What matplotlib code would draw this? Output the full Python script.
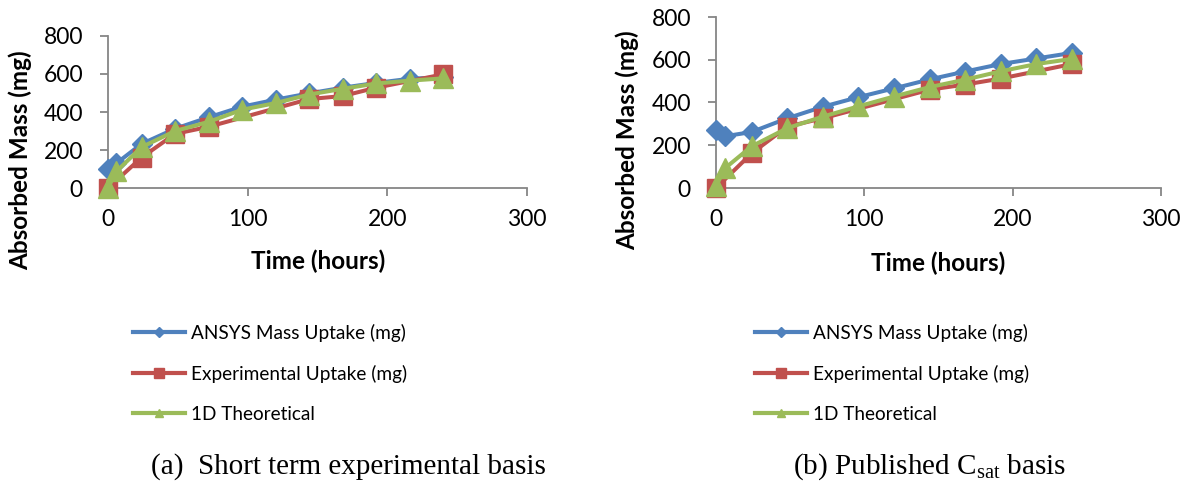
import matplotlib
matplotlib.use("Agg")
import matplotlib.pyplot as plt
from matplotlib.lines import Line2D

plt.rcParams['font.family'] = ['Lato', 'DejaVu Sans']
plt.rcParams['mathtext.fontset'] = 'custom'
plt.rcParams['mathtext.rm'] = 'Liberation Serif'

# ---- data ----
t_model = [0, 6, 24, 48, 72, 96, 120, 144, 168, 192, 216, 240]
t_exp = [0, 24, 48, 72, 144, 168, 192, 240]

a_ansys = [100, 130, 232, 312, 372, 428, 465, 498, 528, 553, 575, 583]
a_exp = [0, 160, 285, 322, 468, 484, 528, 598]
a_theory = [0, 87, 215, 300, 348, 412, 447, 492, 522, 550, 565, 577]

b_ansys = [272, 242, 262, 326, 380, 425, 466, 508, 545, 580, 606, 632]
b_exp = [0, 162, 287, 326, 460, 484, 512, 580]
b_theory = [8, 92, 195, 280, 334, 382, 428, 472, 507, 546, 580, 604]

series_names = ["ANSYS Mass Uptake (mg)", "Experimental Uptake (mg)", "1D Theoretical"]
xticks = [0, 100, 200, 300]
yticks = [0, 200, 400, 600, 800]
captions = ["(a)  Short term experimental basis", r"(b) Published C$_{\rm sat}$ basis"]

BLUE = "#4F81BD"
RED = "#C0504D"
GREEN = "#9BBB59"
GRAY = "#868686"

W, H = 1190, 486
fig = plt.figure(figsize=(W / 100, H / 100), dpi=100)


def px_box(x0, x1, ytop, ybot):
    return [x0 / W, 1 - ybot / H, (x1 - x0) / W, (ybot - ytop) / H]


def draw(ax, ansys, exp, theory):
    ax.plot(t_model, ansys, color=BLUE, lw=2.9, marker='D', ms=10, mec=BLUE, mfc=BLUE, zorder=3)
    ax.plot(t_exp, exp, color=RED, lw=2.9, marker='s', ms=13.5, mec=RED, mfc=RED, zorder=4)
    ax.plot(t_model, theory, color=GREEN, lw=2.9, marker='^', ms=14, mec=GREEN, mfc=GREEN, zorder=5)
    ax.set_xlim(0, 300)
    ax.set_ylim(0, 800)
    ax.set_xticks(xticks)
    ax.set_yticks(yticks)
    for s in ['top', 'right']:
        ax.spines[s].set_visible(False)
    for s in ['left', 'bottom']:
        ax.spines[s].set_color(GRAY)
        ax.spines[s].set_linewidth(1.3)
    ax.tick_params(axis='both', direction='out', length=6, width=1.3, color=GRAY,
                   labelsize=16.5, labelcolor='black')
    ax.tick_params(axis='y', pad=12)
    ax.tick_params(axis='x', pad=9)
    ax.patch.set_alpha(0)
    for ln in ax.lines:
        ln.set_clip_on(False)


axL = fig.add_axes(px_box(108, 527, 36, 188))
draw(axL, a_ansys, a_exp, a_theory)
axR = fig.add_axes(px_box(716, 1161, 17, 188))
draw(axR, b_ansys, b_exp, b_theory)

# axis titles
LBL = dict(fontsize=17.5, fontweight='bold', ha='center', va='center')
fig.text(20 / W, 1 - 160 / H, "Absorbed Mass (mg)", rotation=90, **LBL)
fig.text(318 / W, 1 - 261 / H, "Time (hours)", **LBL)
fig.text(627 / W, 1 - 140 / H, "Absorbed Mass (mg)", rotation=90, **LBL)
fig.text(938 / W, 1 - 263 / H, "Time (hours)", **LBL)

# legends
handles = [
    Line2D([], [], color=BLUE, lw=3, marker='D', ms=5, mec=BLUE, mfc=BLUE),
    Line2D([], [], color=RED, lw=3, marker='s', ms=7, mec=RED, mfc=RED),
    Line2D([], [], color=GREEN, lw=3, marker='^', ms=6, mec=GREEN, mfc=GREEN),
]
for x0 in (133, 755):
    fig.legend(handles, series_names, loc='upper left',
               bbox_to_anchor=(x0 / W, 1 - 324 / H), frameon=False,
               fontsize=13.7, handlelength=2.75, handletextpad=0.28,
               labelspacing=1.2, borderpad=0, borderaxespad=0)

# captions
fig.text(348 / W, 1 - 467 / H, captions[0], ha='center', va='center',
         fontsize=21, family='Liberation Serif')
fig.text(930 / W, 1 - 467 / H, captions[1], ha='center', va='center',
         fontsize=21, family='Liberation Serif')

fig.savefig("out.png", dpi=100)
